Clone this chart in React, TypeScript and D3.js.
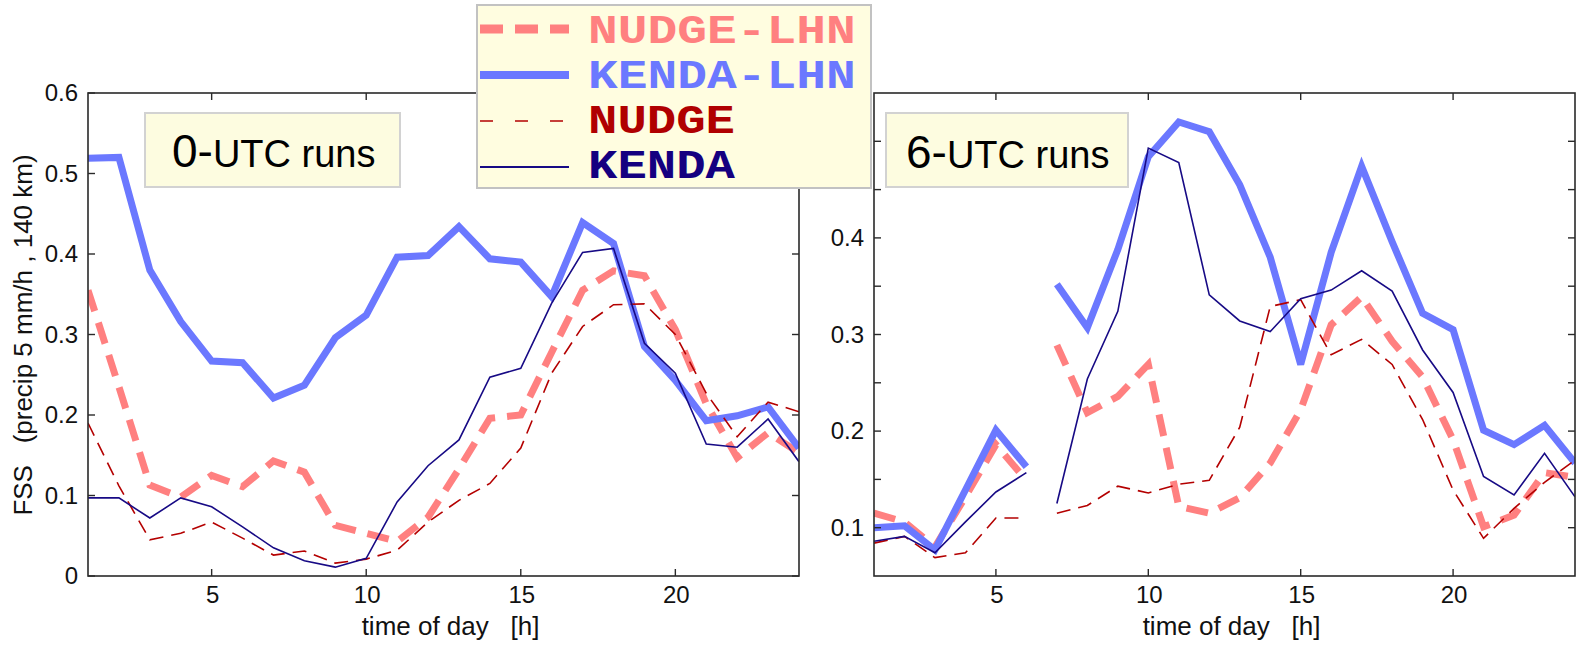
import React from "react";
import * as d3 from "d3";

// Forecast hour of day
const hours = [1, 2, 3, 4, 5, 6, 7, 8, 9, 10, 11, 12, 13, 14, 15, 16, 17, 18, 19, 20, 21, 22, 23, 24];

// FSS (precip 5 mm/h, 140 km) for the 0-UTC runs
const left_nudgeLhn = [0.355, 0.235, 0.113, 0.098, 0.125, 0.111, 0.143, 0.129, 0.063, 0.053, 0.043, 0.073, 0.133, 0.196, 0.2, 0.278, 0.355, 0.379, 0.373, 0.306, 0.214, 0.147, 0.178, 0.153];
const left_kendaLhn = [0.519, 0.52, 0.38, 0.316, 0.267, 0.265, 0.221, 0.237, 0.296, 0.324, 0.396, 0.398, 0.434, 0.394, 0.39, 0.347, 0.439, 0.413, 0.285, 0.243, 0.193, 0.199, 0.21, 0.159];
const left_nudge = [0.19, 0.112, 0.045, 0.053, 0.067, 0.047, 0.026, 0.031, 0.016, 0.021, 0.032, 0.067, 0.094, 0.115, 0.159, 0.252, 0.31, 0.337, 0.338, 0.3, 0.227, 0.173, 0.216, 0.204];
const left_kenda = [0.097, 0.097, 0.072, 0.097, 0.086, 0.061, 0.035, 0.019, 0.011, 0.022, 0.092, 0.137, 0.169, 0.247, 0.258, 0.339, 0.402, 0.407, 0.289, 0.252, 0.164, 0.16, 0.195, 0.142];

// FSS for the 6-UTC runs
const right_nudgeLhn = [0.115, 0.106, 0.08, 0.132, 0.186, 0.149, 0.289, 0.219, 0.236, 0.269, 0.122, 0.115, 0.131, 0.167, 0.222, 0.31, 0.339, 0.293, 0.256, 0.191, 0.101, 0.113, 0.157, 0.152];
const right_kendaLhn = [0.1, 0.102, 0.077, 0.139, 0.201, 0.163, 0.352, 0.307, 0.388, 0.484, 0.52, 0.51, 0.455, 0.38, 0.269, 0.385, 0.474, 0.396, 0.322, 0.305, 0.201, 0.186, 0.206, 0.167];
const right_nudge = [0.084, 0.091, 0.069, 0.074, 0.11, 0.11, 0.115, 0.123, 0.143, 0.136, 0.145, 0.149, 0.204, 0.329, 0.336, 0.279, 0.295, 0.269, 0.212, 0.139, 0.089, 0.12, 0.147, 0.17];
const right_kenda = [0.086, 0.091, 0.074, 0.106, 0.137, 0.157, 0.125, 0.254, 0.324, 0.493, 0.478, 0.341, 0.314, 0.303, 0.337, 0.346, 0.366, 0.345, 0.284, 0.24, 0.153, 0.134, 0.177, 0.132];

// Hour ranges drawn as connected pieces
const leftSegments = [[1, 24]];
const rightSegments = [[1, 6], [7, 24]];

const xTickValues = [5, 10, 15, 20];
const leftYTicks = [0, 0.1, 0.2, 0.3, 0.4, 0.5, 0.6];
const leftYLabels = ["0", "0.1", "0.2", "0.3", "0.4", "0.5", "0.6"];
const rightYTicks = [0.1, 0.15, 0.2, 0.25, 0.3, 0.35, 0.4, 0.45, 0.5];
const rightYLabelValues = [0.1, 0.2, 0.3, 0.4];
const rightYLabels = ["0.1", "0.2", "0.3", "0.4"];

const seriesNames = ["NUDGE-LHN", "KENDA-LHN", "NUDGE", "KENDA"];

type Style = { color: string; width: number; dash?: string; legendWidth: number; legendDash?: string; textColor: string };
const styles: Record<string, Style> = {
  "NUDGE-LHN": { color: "#ff8080", width: 7, dash: "22 12", legendWidth: 9, legendDash: "23 12", textColor: "#ff8080" },
  "KENDA-LHN": { color: "#6b78ff", width: 7, legendWidth: 8, textColor: "#6b78ff" },
  NUDGE: { color: "#b40000", width: 1.6, dash: "14 8", legendWidth: 1.6, legendDash: "13 22", textColor: "#b00000" },
  KENDA: { color: "#170a85", width: 1.6, legendWidth: 2, textColor: "#150080" },
};

const FONT = "'Liberation Sans', Arial, Helvetica, sans-serif";
const AXIS = "#2a2a2a";

type PanelProps = {
  x0: number; x1: number; y0: number; y1: number;
  yDomain: [number, number];
  yTicks: number[];
  yLabelValues: number[];
  yLabels: string[];
  data: Record<string, number[]>;
  segments: number[][];
  clipId: string;
};

function Panel(p: PanelProps) {
  const x = d3.scaleLinear().domain([1, 24]).range([p.x0, p.x1]);
  const y = d3.scaleLinear().domain(p.yDomain).range([p.y1, p.y0]);
  const tick = 7;
  const line = d3
    .line<[number, number]>()
    .x((d) => x(d[0]))
    .y((d) => y(d[1]));

  return (
    <g>
      <defs>
        <clipPath id={p.clipId}>
          <rect x={p.x0} y={p.y0} width={p.x1 - p.x0} height={p.y1 - p.y0} />
        </clipPath>
      </defs>
      <g clipPath={`url(#${p.clipId})`}>
        {seriesNames.map((name) => {
          const st = styles[name];
          const vals = p.data[name];
          return p.segments.map(([a, b], i) => {
            const pts: [number, number][] = hours
              .map((h, k) => [h, vals[k]] as [number, number])
              .filter((d) => d[0] >= a && d[0] <= b);
            return (
              <path
                key={name + i}
                d={line(pts) ?? ""}
                fill="none"
                stroke={st.color}
                strokeWidth={st.width}
                strokeDasharray={st.dash}
                strokeLinejoin="miter"
                strokeMiterlimit={3}
              />
            );
          });
        })}
      </g>
      {/* frame */}
      <rect x={p.x0} y={p.y0} width={p.x1 - p.x0} height={p.y1 - p.y0} fill="none" stroke={AXIS} strokeWidth={1.6} />
      {/* x ticks, bottom and top, pointing inward */}
      {xTickValues.map((t) => (
        <g key={"xt" + t}>
          <line x1={x(t)} x2={x(t)} y1={p.y1} y2={p.y1 - tick} stroke={AXIS} strokeWidth={1.4} />
          <line x1={x(t)} x2={x(t)} y1={p.y0} y2={p.y0 + tick} stroke={AXIS} strokeWidth={1.4} />
          <text x={x(t) + 1} y={p.y1 + 27} textAnchor="middle" fontFamily={FONT} fontSize={24} fill="#111">
            {t}
          </text>
        </g>
      ))}
      {/* y ticks, left and right, pointing inward */}
      {p.yTicks.map((t) => (
        <g key={"yt" + t}>
          <line x1={p.x0} x2={p.x0 + tick} y1={y(t)} y2={y(t)} stroke={AXIS} strokeWidth={1.4} />
          <line x1={p.x1} x2={p.x1 - tick} y1={y(t)} y2={y(t)} stroke={AXIS} strokeWidth={1.4} />
        </g>
      ))}
      {p.yLabelValues.map((t, i) => (
        <text key={"yl" + t} x={p.x0 - 10} y={y(t) + 8} textAnchor="end" fontFamily={FONT} fontSize={24} fill="#111">
          {p.yLabels[i]}
        </text>
      ))}
      <text
        x={(p.x0 + p.x1) / 2 + 7}
        y={635}
        textAnchor="middle"
        fontFamily={FONT}
        fontSize={26}
        fill="#111"
        style={{ whiteSpace: "pre" }}
      >
        {"time of day   [h]"}
      </text>
    </g>
  );
}

function TitleBox({ x, y, w, h, digit, tx, ty }: { x: number; y: number; w: number; h: number; digit: string; tx: number; ty: number }) {
  return (
    <g>
      <rect x={x} y={y} width={w} height={h} fill="#fdfce0" stroke="#d2d2d2" strokeWidth={2} />
      <text x={tx} y={ty} fontFamily={FONT} fill="#000">
        <tspan fontSize={46}>{digit + "-"}</tspan>
        <tspan fontSize={38}>UTC runs</tspan>
      </text>
    </g>
  );
}

function Legend() {
  const x = 477;
  const y = 5;
  const w = 394;
  const h = 183;
  const rows = [29, 75, 121, 167];
  const baselines = [43, 88, 133, 178];
  return (
    <g>
      <rect x={x} y={y} width={w} height={h} fill="#fffde0" stroke="#c2c2c2" strokeWidth={2} />
      {seriesNames.map((name, i) => {
        const st = styles[name];
        return (
          <g key={name}>
            <line
              x1={480}
              x2={569}
              y1={rows[i]}
              y2={rows[i]}
              stroke={st.color}
              strokeWidth={st.legendWidth}
              strokeDasharray={st.legendDash}
            />
            <text
              x={588}
              y={baselines[i]}
              fontFamily="'Liberation Mono', 'Courier New', monospace"
              fontWeight="bold"
              fontSize={40}
              fill={st.textColor}
              textLength={name.length * 30.2 - 4}
              lengthAdjust="spacingAndGlyphs"
            >
              {name}
            </text>
          </g>
        );
      })}
    </g>
  );
}

export default function App() {
  const leftData: Record<string, number[]> = {
    "NUDGE-LHN": left_nudgeLhn,
    "KENDA-LHN": left_kendaLhn,
    NUDGE: left_nudge,
    KENDA: left_kenda,
  };
  const rightData: Record<string, number[]> = {
    "NUDGE-LHN": right_nudgeLhn,
    "KENDA-LHN": right_kendaLhn,
    NUDGE: right_nudge,
    KENDA: right_kenda,
  };
  return (
    <svg
      width={1576}
      height={648}
      viewBox="0 0 1576 648"
      style={{ position: "absolute", left: 0, top: 0, background: "#fff" }}
    >
      <rect x={0} y={0} width={1576} height={648} fill="#fff" />
      <Panel
        x0={88}
        x1={799}
        y0={93}
        y1={576}
        yDomain={[0, 0.6]}
        yTicks={leftYTicks}
        yLabelValues={leftYTicks}
        yLabels={leftYLabels}
        data={leftData}
        segments={leftSegments}
        clipId="clip-left"
      />
      <Panel
        x0={874}
        x1={1575}
        y0={93}
        y1={576}
        yDomain={[0.05, 0.55]}
        yTicks={rightYTicks}
        yLabelValues={rightYLabelValues}
        yLabels={rightYLabels}
        data={rightData}
        segments={rightSegments}
        clipId="clip-right"
      />
      <text
        transform="translate(32,335) rotate(-90)"
        textAnchor="middle"
        fontFamily={FONT}
        fontSize={26}
        fill="#111"
        style={{ whiteSpace: "pre" }}
      >
        {"FSS   (precip 5 mm/h , 140 km)"}
      </text>
      <TitleBox x={145} y={113} w={255} h={74} digit="0" tx={172} ty={167} />
      <TitleBox x={886} y={113} w={242} h={74} digit="6" tx={906} ty={168} />
      <Legend />
    </svg>
  );
}
